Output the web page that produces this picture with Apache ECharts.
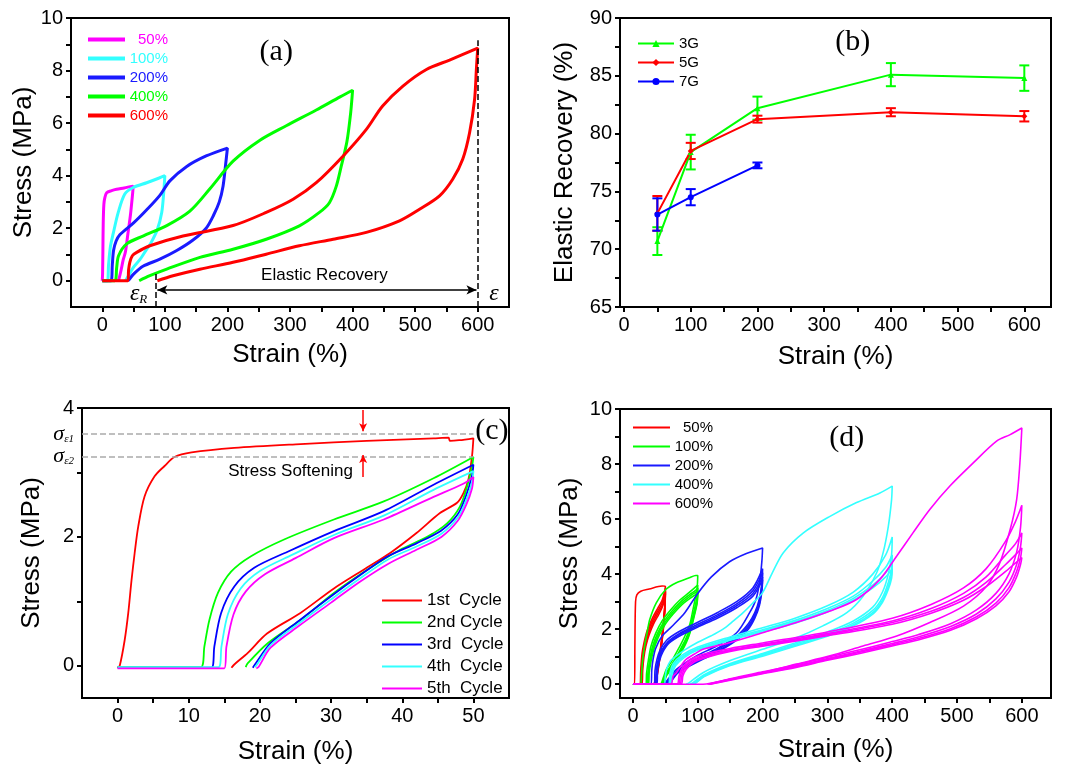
<!DOCTYPE html>
<html>
<head>
<meta charset="utf-8">
<script src="https://cdn.jsdelivr.net/npm/echarts@6/dist/echarts.min.js"></script>
<style>
  html, body { margin: 0; padding: 0; background: #fff; }
  #main { width: 1065px; height: 769px; }
</style>
</head>
<body>
<div id="main"></div>
<script>
// ---------- (a) single loading/unloading loops at different maximum strains ----------
const aLegendLabels = ['50%', '100%', '200%', '400%', '600%'];
const aLoop50 = [[0,0],[0.5,0.3],[1,1.2],[1.5,2.2],[2.5,2.9],[4,3.15],[7,3.35],[15,3.43],[23,3.48],[35,3.53],[49.5,3.6],
  [48,3.2],[45,2.5],[41,1.8],[37,1.1],[33.5,0.8],[30,0.4],[27,0.1],[25.5,0]];
const aLoop100 = [[0,0],[8,0],[10,0.6],[13,1.3],[17.5,1.8],[25.5,2.6],[36,3.3],[49.5,3.55],[71,3.73],[90,3.9],[100,4.0],
  [98,3.3],[95,2.6],[88,1.95],[78,1.45],[71,1.2],[60,0.8],[49.5,0.5],[42,0.2],[37,0]];
const aLoop200 = [[0,0],[14,0],[16,0.6],[18,1.15],[22,1.5],[28,1.75],[50,2.2],[71,2.7],[92,3.25],[108,3.8],[135,4.35],[166,4.75],[200,5.05],
  [197,4.4],[193,3.6],[187,3.0],[178,2.5],[166,2.0],[145,1.55],[119,1.15],[92,0.82],[65,0.55],[50,0.25],[43,0.05],[41,0]];
const aLoop400 = [[0,0],[20,0],[23,0.5],[26,0.95],[39,1.4],[65,1.7],[103,2.1],[140,2.65],[172,3.5],[209,4.55],[252,5.35],[294,5.9],[342,6.5],[380,7.0],[400,7.25],
  [397,6.4],[391,5.3],[382,4.37],[374,3.6],[363,2.97],[347,2.6],[315,2.09],[262,1.58],[209,1.2],[156,0.89],[103,0.44],[76,0.19],[59,0]];
const aLoop600 = [[0,0],[41,0],[42,0.4],[44,0.7],[48,0.95],[55,1.08],[76,1.33],[129,1.7],[209,2.1],[262,2.6],[305,3.1],[342,3.73],[385,4.75],[422,5.76],[448,6.65],[480,7.4],[518,8.04],[555,8.4],[600,8.85],
  [598,8.1],[595,6.9],[587,5.63],[576,4.62],[560,3.86],[539,3.23],[507,2.72],[475,2.28],[422,1.84],[369,1.58],[315,1.33],[262,1.01],[209,0.7],[156,0.44],[113,0.19],[88,0]];
const aColors = ['#ff00ff', '#33ffff', '#1a1aff', '#00ff00', '#ff0000'];
const aRecoveryStrain = 85;   // residual strain after the 600% loop
const aMaxStrain = 600;

// ---------- (b) elastic recovery vs strain ----------
const bStrain = [50, 100, 200, 400, 600];
const b3G = [70.7, 78.4, 82.2, 85.1, 84.8];
const b3GErr = [1.2, 1.5, 1.0, 1.0, 1.1];
const b5G = [73.1, 78.5, 81.25, 81.85, 81.5];
const b5GErr = [1.5, 0.7, 0.3, 0.35, 0.45];
const b7GStrain = [50, 100, 200];
const b7G = [73.0, 74.5, 77.25];
const b7GErr = [1.4, 0.7, 0.25];

// ---------- (c) five successive cycles to 50% ----------
const cNames = ['1st  Cycle', '2nd Cycle', '3rd  Cycle', '4th  Cycle', '5th  Cycle'];
const cColors = ['#ff0000', '#00ff00', '#0000ff', '#33ffff', '#ff00ff'];
const cCycle1 = [[0,-0.03],[0.3,0],[1.0,0.4],[1.5,0.82],[1.96,1.33],[2.4,1.75],[2.9,2.16],[3.8,2.63],[5.2,2.94],[6.6,3.1],[8,3.24],[10.4,3.31],[16.4,3.38],[25.7,3.44],[35,3.49],[44.4,3.53],[46.5,3.54],[46.7,3.49],[48,3.5],[50,3.53],
  [49.8,3.25],[49.3,2.89],[48.6,2.68],[47.7,2.53],[45.3,2.37],[42,2.06],[38.3,1.75],[35,1.52],[30.4,1.2],[25.7,0.82],[21,0.5],[18.3,0.2],[16.4,0.02],[16,-0.03]];
const cCycle2 = [[0,-0.02],[11.7,-0.02],[12.2,0.3],[12.9,0.71],[14.1,1.13],[15.95,1.46],[18.75,1.7],[23.4,1.96],[30.4,2.27],[37.4,2.55],[44.4,2.91],[50,3.24],
  [49.8,3.09],[49.1,2.78],[48.1,2.47],[46.3,2.21],[43.5,2.0],[39.7,1.8],[35.1,1.49],[30.4,1.13],[25.7,0.71],[21.1,0.35],[18.3,0.04],[18,-0.02]];
const cCycle3 = [[0,-0.03],[13.2,-0.03],[13.6,0.3],[14.55,0.82],[16.4,1.23],[19.2,1.52],[23.9,1.77],[30.4,2.09],[37.4,2.4],[44.4,2.81],[50,3.12],
  [49.8,2.95],[49,2.65],[47.8,2.35],[45.5,2.1],[42,1.9],[38,1.7],[34,1.4],[30,1.08],[25.5,0.7],[21.5,0.35],[19.3,0.02],[19,-0.03]];
const cCycle4 = [[0,-0.02],[14.2,-0.02],[14.6,0.3],[15.5,0.8],[17.3,1.2],[20,1.47],[24.5,1.72],[30.4,2.03],[37.4,2.33],[44.4,2.73],[50,3.02],
  [49.8,2.85],[49,2.57],[47.8,2.3],[45.5,2.05],[42,1.85],[38,1.65],[34,1.35],[30,1.03],[25.5,0.66],[21.5,0.32],[19.6,0.02],[19.3,-0.02]];
const cCycle5 = [[0,-0.04],[15,-0.04],[15.3,0.3],[16.3,0.8],[18,1.15],[20.7,1.42],[25,1.67],[30.4,1.98],[37.4,2.27],[44.4,2.62],[48.5,2.82],[50,2.93],
  [49.8,2.75],[49,2.5],[47.8,2.25],[45.5,2.0],[42,1.8],[38,1.58],[34,1.3],[30,0.98],[25.5,0.62],[21.5,0.28],[19.8,-0.02],[19.5,-0.04]];
const cStressFirst = 3.6;    // sigma_e1
const cStressSecond = 3.25;  // sigma_e2

// ---------- (d) five cycles at each maximum strain ----------
const dLegendLabels = ['50%', '100%', '200%', '400%', '600%'];
const dColors = ['#ff0000', '#00ff00', '#1a1aff', '#33ffff', '#ff00ff'];
const d50 = [
  [[0,0],[2.5,0],[3,1.5],[4,3.0],[6,3.25],[12,3.38],[25,3.46],[45,3.57],[50,3.55],[49.5,3.0],[48,2.5],[46,2.0],[43,1.4],[40,0.9],[37,0.45],[34,0.1],[32,0]],
  [[0,0],[11,0],[12,0.5],[14,1.1],[17,1.5],[22,1.95],[30,2.4],[38,2.75],[45,3.05],[50,3.5],[49.5,3.0],[48,2.45],[46,1.95],[43,1.35],[40,0.85],[37,0.4],[34,0.05],[33,0]],
  [[0,0],[12,0],[13,0.5],[15,1.05],[18,1.45],[23,1.9],[30,2.3],[38,2.65],[45,2.95],[50,3.4],[49.5,2.95],[48,2.4],[46,1.9],[43,1.3],[40,0.8],[37,0.35],[34.5,0]],
  [[0,0],[13,0],[14,0.5],[16,1.0],[19,1.4],[24,1.85],[31,2.25],[39,2.6],[46,2.9],[50,3.35],[49.5,2.9],[48,2.35],[46,1.85],[43,1.25],[40,0.75],[37,0.3],[35,0]],
  [[0,0],[14,0],[15,0.5],[17,1.0],[20,1.4],[25,1.8],[32,2.2],[40,2.55],[46,2.85],[50,3.3],[49.5,2.85],[48,2.3],[46,1.8],[43,1.2],[40,0.7],[37,0.25],[35.5,0]]
];
const d100 = [
  [[0,0],[12,0],[13,0.3],[15,0.9],[18,1.4],[22,1.9],[26,2.36],[36,2.96],[51,3.45],[67,3.69],[87,3.87],[97,3.95],[100,3.95],
   [99,3.5],[96,3.1],[92.7,2.72],[88,2.2],[82.4,1.87],[75,1.5],[67,1.15],[60,0.85],[51.5,0.54],[47,0.25],[44,0.04],[43,0]],
  [[0,0],[20,0],[21,0.4],[24,0.9],[28,1.4],[35,1.85],[45,2.3],[58,2.7],[72,3.05],[85,3.3],[95,3.5],[100,3.6],
   [99,3.2],[96,2.85],[92.7,2.5],[88,2.05],[82.4,1.7],[75,1.35],[67,1.0],[60,0.72],[51.5,0.42],[47,0.15],[45,0]],
  [[0,0],[22,0],[23,0.4],[26,0.9],[30,1.35],[37,1.8],[47,2.25],[60,2.65],[74,3.0],[87,3.25],[96,3.4],[100,3.5],
   [99,3.1],[96,2.75],[92.7,2.4],[88,1.98],[82.4,1.62],[75,1.28],[67,0.95],[60,0.67],[51.5,0.37],[47.5,0.12],[46,0]],
  [[0,0],[23,0],[24,0.4],[27,0.9],[31,1.3],[38,1.75],[48,2.2],[61,2.6],[75,2.95],[88,3.2],[96,3.33],[100,3.4],
   [99,3.0],[96,2.68],[92.7,2.35],[88,1.92],[82.4,1.57],[75,1.23],[67,0.9],[60,0.62],[51.5,0.33],[48,0.1],[46.5,0]],
  [[0,0],[24,0],[25,0.4],[28,0.85],[32,1.25],[39,1.7],[49,2.15],[62,2.55],[76,2.9],[88,3.12],[96,3.25],[100,3.32],
   [99,2.95],[96,2.62],[92.7,2.3],[88,1.87],[82.4,1.52],[75,1.18],[67,0.86],[60,0.58],[51.5,0.3],[48.5,0.08],[47,0]]
];
const d200 = [
  [[0,0],[28,0],[29,0.5],[31,0.9],[35,1.3],[45,1.75],[60,2.1],[80,2.6],[100,3.3],[121,3.9],[149,4.45],[175,4.75],[200,4.95],
   [199,4.5],[196,3.8],[190,3.1],[180,2.6],[160,1.87],[129,1.39],[98,1.03],[67,0.54],[52,0.12],[47,0]],
  [[0,0],[33,0],[34,0.5],[37,0.9],[42,1.25],[52,1.6],[70,1.9],[100,2.25],[130,2.6],[160,3.0],[185,3.5],[200,4.2],
   [199,3.7],[195,3.1],[188,2.6],[178,2.2],[160,1.75],[130,1.3],[100,0.95],[70,0.52],[55,0.15],[50,0]],
  [[0,0],[35,0],[36,0.5],[39,0.9],[44,1.22],[54,1.55],[72,1.85],[100,2.18],[130,2.52],[160,2.92],[185,3.4],[200,4.05],
   [199,3.6],[195,3.0],[188,2.52],[178,2.12],[160,1.7],[130,1.25],[100,0.9],[70,0.48],[56,0.12],[52,0]],
  [[0,0],[36,0],[37,0.5],[40,0.88],[45,1.2],[55,1.52],[73,1.82],[100,2.12],[130,2.46],[160,2.85],[185,3.3],[200,3.9],
   [199,3.5],[195,2.92],[188,2.46],[178,2.06],[160,1.65],[130,1.2],[100,0.86],[70,0.45],[57,0.1],[53,0]],
  [[0,0],[37,0],[38,0.5],[41,0.86],[46,1.17],[56,1.5],[74,1.78],[100,2.08],[130,2.4],[160,2.78],[185,3.2],[200,3.8],
   [199,3.4],[195,2.85],[188,2.4],[178,2.0],[160,1.6],[130,1.16],[100,0.82],[70,0.42],[58,0.08],[54,0]]
];
const d400 = [
  [[0,0],[48,0],[50,0.3],[52,0.55],[58,0.85],[67,1.03],[80,1.25],[98,1.5],[120,1.75],[139,2.0],[155,2.3],[170,2.6],[185,2.95],[200,3.33],[215,4.05],[232,4.78],[263,5.5],[304,6.1],[345,6.6],[381,6.95],[400,7.2],
   [399,6.7],[394,5.74],[386,4.78],[376,4.05],[355,3.2],[330,2.6],[293,2.12],[252,1.69],[200,1.27],[149,0.85],[108,0.42],[87,0.06],[82,0]],
  [[0,0],[55,0],[57,0.4],[62,0.75],[75,1.05],[100,1.35],[150,1.72],[200,2.05],[250,2.4],[300,2.85],[340,3.35],[370,4.0],[390,4.7],[400,5.35],
   [399,4.7],[394,4.0],[385,3.35],[370,2.8],[340,2.3],[300,1.9],[250,1.5],[200,1.12],[150,0.75],[110,0.35],[92,0.05],[88,0]],
  [[0,0],[57,0],[59,0.4],[64,0.73],[77,1.02],[100,1.3],[150,1.67],[200,1.98],[250,2.32],[300,2.75],[340,3.2],[370,3.75],[390,4.25],[400,4.7],
   [399,4.2],[394,3.7],[385,3.15],[370,2.68],[340,2.22],[300,1.83],[250,1.45],[200,1.08],[150,0.72],[110,0.32],[94,0.03],[90,0]],
  [[0,0],[58,0],[60,0.4],[65,0.7],[78,1.0],[100,1.27],[150,1.63],[200,1.94],[250,2.27],[300,2.68],[340,3.12],[370,3.6],[390,4.05],[400,4.4],
   [399,4.0],[394,3.55],[385,3.05],[370,2.6],[340,2.16],[300,1.78],[250,1.41],[200,1.05],[150,0.7],[110,0.3],[95,0.02],[92,0]],
  [[0,0],[59,0],[61,0.4],[66,0.68],[79,0.97],[100,1.24],[150,1.6],[200,1.9],[250,2.22],[300,2.62],[340,3.05],[370,3.5],[390,3.9],[400,4.2],
   [399,3.85],[394,3.45],[385,2.98],[370,2.55],[340,2.12],[300,1.74],[250,1.38],[200,1.02],[150,0.68],[110,0.28],[96,0.02],[93,0]]
];
const d600 = [
  [[0,0],[58,0],[62,0.3],[67,0.42],[75,0.7],[82,0.9],[95,1.1],[108,1.27],[149,1.51],[200,1.87],[252,2.24],[304,2.66],[345,3.08],[381,3.81],[407,4.66],[432,5.5],[458,6.35],[489,7.2],[525,8.04],[561,8.83],[582,9.07],[600,9.31],
   [597,8.04],[592,6.71],[582,5.62],[566,4.41],[546,3.57],[510,2.84],[458,2.24],[407,1.75],[355,1.39],[304,1.03],[252,0.73],[200,0.42],[149,0.18],[108,0],[62,0]],
  [[0,0],[68,0],[71,0.3],[76,0.6],[88,0.9],[110,1.1],[150,1.3],[200,1.5],[300,1.9],[400,2.4],[460,2.9],[510,3.5],[545,4.2],[575,5.2],[590,5.9],[600,6.5],
   [598,5.7],[592,4.8],[580,4.0],[560,3.3],[530,2.7],[490,2.2],[440,1.8],[400,1.55],[350,1.25],[300,0.98],[250,0.7],[200,0.45],[150,0.2],[115,0]],
  [[0,0],[70,0],[73,0.3],[78,0.58],[90,0.86],[112,1.05],[150,1.25],[200,1.45],[300,1.84],[400,2.3],[460,2.75],[510,3.3],[545,3.9],[575,4.7],[590,5.1],[600,5.5],
   [598,5.0],[592,4.35],[580,3.7],[560,3.1],[530,2.55],[490,2.1],[440,1.72],[400,1.48],[350,1.2],[300,0.93],[250,0.66],[200,0.42],[150,0.18],[117,0]],
  [[0,0],[72,0],[75,0.3],[80,0.56],[92,0.83],[114,1.02],[150,1.22],[200,1.42],[300,1.8],[400,2.24],[460,2.65],[510,3.15],[545,3.7],[575,4.35],[590,4.7],[600,4.95],
   [598,4.6],[592,4.1],[580,3.5],[560,2.95],[530,2.45],[490,2.02],[440,1.66],[400,1.43],[350,1.16],[300,0.9],[250,0.63],[200,0.4],[150,0.16],[118,0]],
  [[0,0],[74,0],[77,0.3],[82,0.54],[94,0.8],[116,0.99],[150,1.19],[200,1.38],[300,1.76],[400,2.18],[460,2.58],[510,3.05],[545,3.55],[575,4.1],[590,4.4],[600,4.6],
   [598,4.35],[592,3.9],[580,3.35],[560,2.85],[530,2.38],[490,1.96],[440,1.61],[400,1.39],[350,1.12],[300,0.87],[250,0.6],[200,0.38],[150,0.15],[119,0]]
];

// ---------- tick positions ----------
const strainLabels600 = [0, 100, 200, 300, 400, 500, 600];
const strainTicks600 = [0, 50, 100, 150, 200, 250, 300, 350, 400, 450, 500, 550, 600];
const stressLabels10 = [0, 2, 4, 6, 8, 10];
const stressTicks10 = [0, 1, 2, 3, 4, 5, 6, 7, 8, 9, 10];
const recoveryLabels = [65, 70, 75, 80, 85, 90];
const recoveryTicks = [65, 67.5, 70, 72.5, 75, 77.5, 80, 82.5, 85, 87.5, 90];
const cStrainLabels = [0, 10, 20, 30, 40, 50];
const cStrainTicks = [0, 5, 10, 15, 20, 25, 30, 35, 40, 45, 50];
const cStressLabels = [0, 2, 4];
const cStressTicks = [0, 1, 2, 3, 4];

// ---------- chart ----------
const SANS = 'Liberation Sans, Arial, sans-serif';
const SERIF = 'Liberation Serif, Times New Roman, serif';
const chart = echarts.init(document.getElementById('main'), null, { renderer: 'canvas' });

const grids = [
  { left: 71, top: 18, width: 438, height: 289 },
  { left: 620, top: 18, width: 431, height: 289 },
  { left: 82, top: 408, width: 427, height: 290 },
  { left: 620, top: 409, width: 431, height: 289 }
].map(g => Object.assign(g, { show: true, borderColor: '#000', borderWidth: 2, backgroundColor: 'transparent', containLabel: false }));

function axisBase(gridIndex, min, max, labels, ticks, name, nameGap) {
  return {
    type: 'value', gridIndex, min, max, name, nameLocation: 'middle', nameGap,
    nameTextStyle: { fontSize: 26, color: '#000', fontFamily: SANS },
    axisLine: { show: true, onZero: false, lineStyle: { color: '#000', width: 2 } },
    axisTick: { show: true, customValues: ticks, length: 5, lineStyle: { color: '#000', width: 2 } },
    axisLabel: { customValues: labels, fontSize: 20, color: '#000', fontFamily: SANS, margin: 8 },
    splitLine: { show: false }
  };
}

const xAxes = [
  axisBase(0, -50, 650, strainLabels600, strainTicks600, 'Strain (%)', 35),
  axisBase(1, -6, 640, strainLabels600, strainTicks600, 'Strain (%)', 37),
  axisBase(2, -5, 55, cStrainLabels, cStrainTicks, 'Strain (%)', 41),
  axisBase(3, -20, 645, strainLabels600, strainTicks600, 'Strain (%)', 39)
];
const yAxes = [
  axisBase(0, -1, 10, stressLabels10, stressTicks10, 'Stress (MPa)', 34),
  axisBase(1, 65, 90, recoveryLabels, recoveryTicks, 'Elastic Recovery (%)', 42),
  axisBase(2, -0.5, 4, cStressLabels, cStressTicks, 'Stress (MPa)', 37),
  axisBase(3, -0.5, 10, stressLabels10, stressTicks10, 'Stress (MPa)', 37)
];

function curve(name, data, color, width, idx) {
  return {
    type: 'line', name, data, xAxisIndex: idx, yAxisIndex: idx,
    showSymbol: false, symbol: 'none', smooth: 0.3,
    lineStyle: { color, width }, itemStyle: { color },
    silent: true, animation: false
  };
}

function textMark(coord, text, style) {
  return { coord, symbolSize: 0, label: Object.assign({ show: true, formatter: text, position: 'inside', color: '#000' }, style) };
}

const series = [];

// (a)
const aLoops = [aLoop50, aLoop100, aLoop200, aLoop400, aLoop600];
const aNames = ['a50', 'a100', 'a200', 'a400', 'a600'];
aLoops.forEach((d, i) => series.push(curve(aNames[i], d, aColors[i], 3, 0)));
series.push({
  type: 'line', name: 'a-notes', data: [], xAxisIndex: 0, yAxisIndex: 0, silent: true,
  markLine: {
    silent: true, symbol: ['none', 'none'], animation: false,
    label: { show: false },
    lineStyle: { color: '#000', width: 1.5, type: 'dashed' },
    data: [
      [{ coord: [aMaxStrain, -1] }, { coord: [aMaxStrain, 9.15] }],
      [{ coord: [aRecoveryStrain, -1] }, { coord: [aRecoveryStrain, 0.35] }],
      [{ coord: [aRecoveryStrain + 3, -0.35], symbol: 'arrow', symbolSize: [7, 10], lineStyle: { type: 'solid', width: 1.5 } },
       { coord: [aMaxStrain - 2, -0.35], symbol: 'arrow', symbolSize: [7, 10] }]
    ]
  },
  markPoint: {
    silent: true, animation: false, symbol: 'circle',
    data: [
      textMark([355, 0.2], 'Elastic Recovery', { fontSize: 17, fontFamily: SANS }),
      textMark([278, 8.7], '(a)', { fontSize: 30, fontFamily: SERIF }),
      textMark([58, -0.5], '{e|ε}{s|R}', { rich: { e: { fontSize: 24, fontStyle: 'italic', fontFamily: SERIF, color: '#000' }, s: { fontSize: 13, fontStyle: 'italic', fontFamily: SERIF, color: '#000', padding: [12, 0, 0, 0] } } }),
      textMark([626, -0.5], '{e|ε}', { rich: { e: { fontSize: 24, fontStyle: 'italic', fontFamily: SERIF, color: '#000' } } })
    ]
  }
});

// (b)
function errorBars(name, xs, ys, errs, color) {
  return {
    type: 'custom', name, xAxisIndex: 1, yAxisIndex: 1, silent: true, animation: false,
    encode: { x: 0, y: 1 },
    data: xs.map((x, i) => [x, ys[i], errs[i]]),
    renderItem: (params, api) => {
      const x = api.value(0), y = api.value(1), e = api.value(2);
      const t = api.coord([x, y + e]), b = api.coord([x, y - e]);
      const w = 5, st = { stroke: color, lineWidth: 2 };
      return { type: 'group', children: [
        { type: 'line', shape: { x1: t[0], y1: t[1], x2: b[0], y2: b[1] }, style: st },
        { type: 'line', shape: { x1: t[0] - w, y1: t[1], x2: t[0] + w, y2: t[1] }, style: st },
        { type: 'line', shape: { x1: b[0] - w, y1: b[1], x2: b[0] + w, y2: b[1] }, style: st }
      ] };
    }
  };
}
function recoveryLine(name, xs, ys, color, symbol) {
  return {
    type: 'line', name, xAxisIndex: 1, yAxisIndex: 1, silent: true, animation: false,
    data: xs.map((x, i) => [x, ys[i]]),
    symbol, symbolSize: 6, showSymbol: true,
    lineStyle: { color, width: 2 }, itemStyle: { color }
  };
}
series.push(errorBars('3G-err', bStrain, b3G, b3GErr, '#00ff00'));
series.push(recoveryLine('3G', bStrain, b3G, '#00ff00', 'triangle'));
series.push(errorBars('5G-err', bStrain, b5G, b5GErr, '#ff0000'));
series.push(recoveryLine('5G', bStrain, b5G, '#ff0000', 'diamond'));
series.push(errorBars('7G-err', b7GStrain, b7G, b7GErr, '#0000ff'));
series.push(recoveryLine('7G', b7GStrain, b7G, '#0000ff', 'circle'));
series.push({
  type: 'line', name: 'b-notes', data: [], xAxisIndex: 1, yAxisIndex: 1, silent: true,
  markPoint: { silent: true, animation: false, data: [textMark([343, 87.9], '(b)', { fontSize: 30, fontFamily: SERIF })] }
});

// (c)
[cCycle1, cCycle2, cCycle3, cCycle4, cCycle5].forEach((d, i) => series.push(curve(cNames[i], d, cColors[i], 1.8, 2)));
const sigmaRich = {
  s: { fontSize: 22, fontStyle: 'italic', fontFamily: SERIF, color: '#000' },
  b: { fontSize: 11, fontStyle: 'italic', fontFamily: SERIF, color: '#000', padding: [10, 0, 0, 0] }
};
series.push({
  type: 'line', name: 'c-notes', data: [], xAxisIndex: 2, yAxisIndex: 2, silent: true,
  markLine: {
    silent: true, animation: false, symbol: ['none', 'none'], label: { show: false },
    lineStyle: { color: '#aaaaaa', width: 1.5, type: 'dashed' },
    data: [
      [{ coord: [-5, cStressFirst] }, { coord: [50, cStressFirst] }],
      [{ coord: [-5, cStressSecond] }, { coord: [50, cStressSecond] }],
      [{ coord: [34.5, 3.97], lineStyle: { color: '#ff0000', type: 'solid', width: 1.5 } }, { coord: [34.5, cStressFirst + 0.04], symbol: 'arrow', symbolSize: [6, 8] }],
      [{ coord: [34.5, 2.93], lineStyle: { color: '#ff0000', type: 'solid', width: 1.5 } }, { coord: [34.5, cStressSecond + 0.02], symbol: 'arrow', symbolSize: [6, 8] }]
    ]
  },
  markPoint: {
    silent: true, animation: false,
    data: [
      textMark([24.3, 3.02], 'Stress Softening', { fontSize: 17, fontFamily: SANS }),
      textMark([52.6, 3.64], '(c)', { fontSize: 30, fontFamily: SERIF }),
      textMark([-5, cStressFirst], '{s|σ}{b|ε1}', { position: 'left', distance: 8, rich: sigmaRich }),
      textMark([-5, cStressSecond], '{s|σ}{b|ε2}', { position: 'left', distance: 8, rich: sigmaRich })
    ]
  }
});

// (d)
const dGroups = [d50, d100, d200, d400, d600];
const dNames = ['d50', 'd100', 'd200', 'd400', 'd600'];
dGroups.forEach((loops, i) => loops.forEach(d => series.push(curve(dNames[i], d, dColors[i], 1.6, 3))));
series.push({
  type: 'line', name: 'd-notes', data: [], xAxisIndex: 3, yAxisIndex: 3, silent: true,
  markPoint: { silent: true, animation: false, data: [textMark([330, 8.95], '(d)', { fontSize: 30, fontFamily: SERIF })] }
});

// legends: plain bar-shaped keys for the curve panels
function rightAlignedLegend(names, labels, colors, textColors, left, top, gap, width, thick) {
  const map = {};
  names.forEach((n, i) => { map[n] = labels[i]; });
  return {
    left, top, orient: 'vertical', itemWidth: width, itemHeight: thick, itemGap: gap, selectedMode: false,
    icon: 'rect',
    data: names.map((n, i) => ({ name: n, icon: 'rect', textStyle: { rich: { r: { width: 38, align: 'right', fontSize: 15, fontFamily: SANS, color: textColors[i] } } } })),
    formatter: n => '{r|' + map[n] + '}'
  };
}
const legends = [
  rightAlignedLegend(aNames, aLegendLabels, aColors, aColors, 83, 27, 4, 37, 4),
  { left: 632, top: 31, orient: 'vertical', itemWidth: 36, itemHeight: 9, itemGap: 4, selectedMode: false,
    data: ['3G', '5G', '7G'], textStyle: { fontSize: 15, fontFamily: SANS, color: '#000' } },
  { left: 377, top: 587, orient: 'vertical', itemWidth: 40, itemHeight: 2, itemGap: 5, selectedMode: false,
    icon: 'rect',
    data: cNames.map(n => ({ name: n, icon: 'rect' })), textStyle: { fontSize: 17, fontFamily: SANS, color: '#000' } },
  rightAlignedLegend(dNames, dLegendLabels, dColors, ['#000', '#000', '#000', '#000', '#000'], 628, 415, 4, 37, 2)
];

chart.setOption({
  animation: false,
  backgroundColor: '#fff',
  grid: grids,
  xAxis: xAxes,
  yAxis: yAxes,
  legend: legends,
  series
});
</script>
</body>
</html>
